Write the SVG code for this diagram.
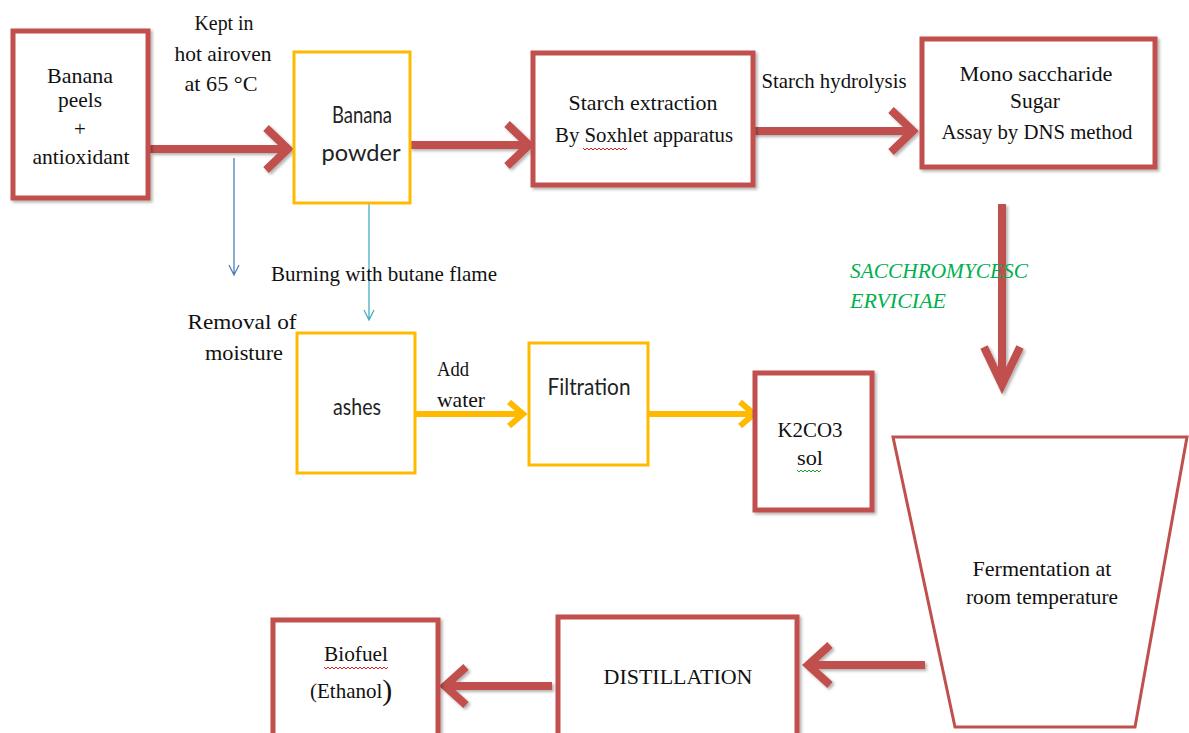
<svg xmlns="http://www.w3.org/2000/svg" width="1189" height="733" viewBox="0 0 1189 733">
<defs>
<filter id="sh" x="-10%" y="-10%" width="130%" height="130%">
<feDropShadow dx="2" dy="2" stdDeviation="1.5" flood-color="#000" flood-opacity="0.3"/>
</filter>
</defs>
<style>
.red{fill:#fff;stroke:#C0504D;stroke-width:5;filter:url(#sh)}
.org{fill:#fff;stroke:#FFBA00;stroke-width:3}
.t{font-family:"Liberation Serif","Times New Roman",serif;font-size:21px;fill:#111;text-anchor:middle}
.ts{font-family:Lato,"Open Sans",sans-serif;font-size:24px;fill:#222;text-anchor:middle}
.g{font-family:"Liberation Serif",serif;font-size:21px;font-style:italic;fill:#00B050}
.ra{fill:none;stroke:#C0504D;stroke-width:8;filter:url(#sh)}
.oa{fill:none;stroke:#FFBA00;stroke-width:6}
.wave{fill:none;stroke:#E02020;stroke-width:1}
.wg{fill:none;stroke:#20A020;stroke-width:1}
</style>
<rect width="1189" height="733" fill="#fff"/>

<g id="connectors">
<path class="ra" d="M150,149 H286 M266,128 L288,149 L266,170"/>
<path class="ra" d="M410,145 H527 M507,124 L529,145 L507,166"/>
<path class="ra" d="M753,131 H911 M891,110 L913,131 L891,152"/>
<path class="ra" d="M1002,204 V383 M984,347 L1002,385 L1020,347"/>
<path class="ra" d="M925,665 H810 M830,645 L808,665 L830,685"/>
<path class="ra" d="M552,686 H446 M466,667 L445,686 L466,705"/>
<path class="oa" d="M415,414 H522 M509,402 L523,414 L509,426"/>
<path class="oa" d="M648,414 H753 M740,402 L754,414 L740,426"/>
<path d="M234,158 V275 M229,265 L234,275 L239,265" fill="none" stroke="#4F81BD" stroke-width="1.3"/>
<path d="M369,204 V320 M364,310 L369,320 L374,310" fill="none" stroke="#4BACC6" stroke-width="1.3"/>
</g>

<g id="labels">
<text class="t" x="224" y="30" textLength="59" lengthAdjust="spacingAndGlyphs">Kept in</text>
<text class="t" x="223" y="61" textLength="97" lengthAdjust="spacingAndGlyphs">hot airoven</text>
<text class="t" x="221" y="91" textLength="73" lengthAdjust="spacingAndGlyphs">at 65 °C</text>
<text class="t" x="834" y="88" textLength="145" lengthAdjust="spacingAndGlyphs">Starch hydrolysis</text>
<text class="t" x="384" y="281" textLength="226" lengthAdjust="spacingAndGlyphs">Burning with butane flame</text>
<text class="t" x="242" y="329" textLength="109" lengthAdjust="spacingAndGlyphs">Removal of</text>
<text class="t" x="244" y="360" textLength="78" lengthAdjust="spacingAndGlyphs">moisture</text>
<text class="t" x="437" y="376" style="text-anchor:start" textLength="32" lengthAdjust="spacingAndGlyphs">Add</text>
<text class="t" x="437" y="407" style="text-anchor:start" textLength="48" lengthAdjust="spacingAndGlyphs">water</text>
<text class="g" x="850" y="278" textLength="178" lengthAdjust="spacingAndGlyphs">SACCHROMYCESC</text>
<text class="g" x="850" y="308" textLength="96" lengthAdjust="spacingAndGlyphs">ERVICIAE</text>
</g>

<g id="banana-peels">
<rect class="red" x="13" y="31" width="135" height="167"/>
<text class="t" x="80" y="83" textLength="66" lengthAdjust="spacingAndGlyphs">Banana</text>
<text class="t" x="80" y="107" textLength="44" lengthAdjust="spacingAndGlyphs">peels</text>
<text class="t" x="80" y="136">+</text>
<text class="t" x="81" y="164" textLength="97" lengthAdjust="spacingAndGlyphs">antioxidant</text>
</g>

<g id="banana-powder">
<rect class="org" x="294" y="52" width="116" height="151"/>
<text class="ts" x="362" y="123" textLength="60" lengthAdjust="spacingAndGlyphs">Banana</text>
<text class="ts" x="361" y="161" textLength="79" lengthAdjust="spacingAndGlyphs">powder</text>
</g>

<g id="starch-extraction">
<rect class="red" x="533" y="53" width="220" height="132"/>
<text class="t" x="643" y="110" textLength="149" lengthAdjust="spacingAndGlyphs">Starch extraction</text>
<text class="t" x="644" y="142" textLength="178" lengthAdjust="spacingAndGlyphs">By Soxhlet apparatus</text>
<path class="wave" d="M583,148 l2,2 l2,-2 l2,2 l2,-2 l2,2 l2,-2 l2,2 l2,-2 l2,2 l2,-2 l2,2 l2,-2 l2,2 l2,-2 l2,2 l2,-2 l2,2 l2,-2 l2,2 l2,-2 l2,2 l2,-2"/>
</g>

<g id="mono-saccharide">
<rect class="red" x="922" y="39" width="233" height="128"/>
<text class="t" x="1036" y="81" textLength="153" lengthAdjust="spacingAndGlyphs">Mono saccharide</text>
<text class="t" x="1035" y="108" textLength="50" lengthAdjust="spacingAndGlyphs">Sugar</text>
<text class="t" x="1037" y="139" textLength="191" lengthAdjust="spacingAndGlyphs">Assay by DNS method</text>
</g>

<g id="ashes">
<rect class="org" x="297" y="333" width="118" height="140"/>
<text class="ts" x="357" y="415" textLength="48" lengthAdjust="spacingAndGlyphs">ashes</text>
</g>

<g id="filtration">
<rect class="org" x="529" y="343" width="119" height="122"/>
<text class="ts" x="589" y="395" textLength="83" lengthAdjust="spacingAndGlyphs">Filtration</text>
</g>

<g id="k2co3">
<rect class="red" x="755" y="373" width="117" height="137"/>
<text class="t" x="810" y="437" textLength="65" lengthAdjust="spacingAndGlyphs">K2CO3</text>
<text class="t" x="810" y="465" textLength="26" lengthAdjust="spacingAndGlyphs">sol</text>
<path class="wg" d="M797,470 l2,2 l2,-2 l2,2 l2,-2 l2,2 l2,-2 l2,2 l2,-2 l2,2 l2,-2 l2,2 l2,-2"/>
</g>

<g id="fermentation">
<polygon points="893,437 1187,437 1135,727 955,727" fill="#fff" stroke="#C0504D" stroke-width="3"/>
<text class="t" x="1042" y="576" textLength="139" lengthAdjust="spacingAndGlyphs">Fermentation at</text>
<text class="t" x="1042" y="604" textLength="152" lengthAdjust="spacingAndGlyphs">room temperature</text>
</g>

<g id="distillation">
<rect class="red" x="558" y="617" width="239" height="125"/>
<text class="t" x="678" y="684" textLength="149" lengthAdjust="spacingAndGlyphs">DISTILLATION</text>
</g>

<g id="biofuel">
<rect class="red" x="273" y="620" width="165" height="122"/>
<text class="t" x="356" y="661" textLength="64" lengthAdjust="spacingAndGlyphs">Biofuel</text>
<path class="wave" d="M324,667 l2,2 l2,-2 l2,2 l2,-2 l2,2 l2,-2 l2,2 l2,-2 l2,2 l2,-2 l2,2 l2,-2 l2,2 l2,-2 l2,2 l2,-2 l2,2 l2,-2 l2,2 l2,-2 l2,2 l2,-2 l2,2 l2,-2 l2,2 l2,-2 l2,2 l2,-2 l2,2 l2,-2 l2,2 l2,-2"/>
<text class="t" x="310" y="698" style="text-anchor:start"><tspan>(Ethanol</tspan><tspan font-size="30" dy="2">)</tspan></text>
</g>
</svg>
